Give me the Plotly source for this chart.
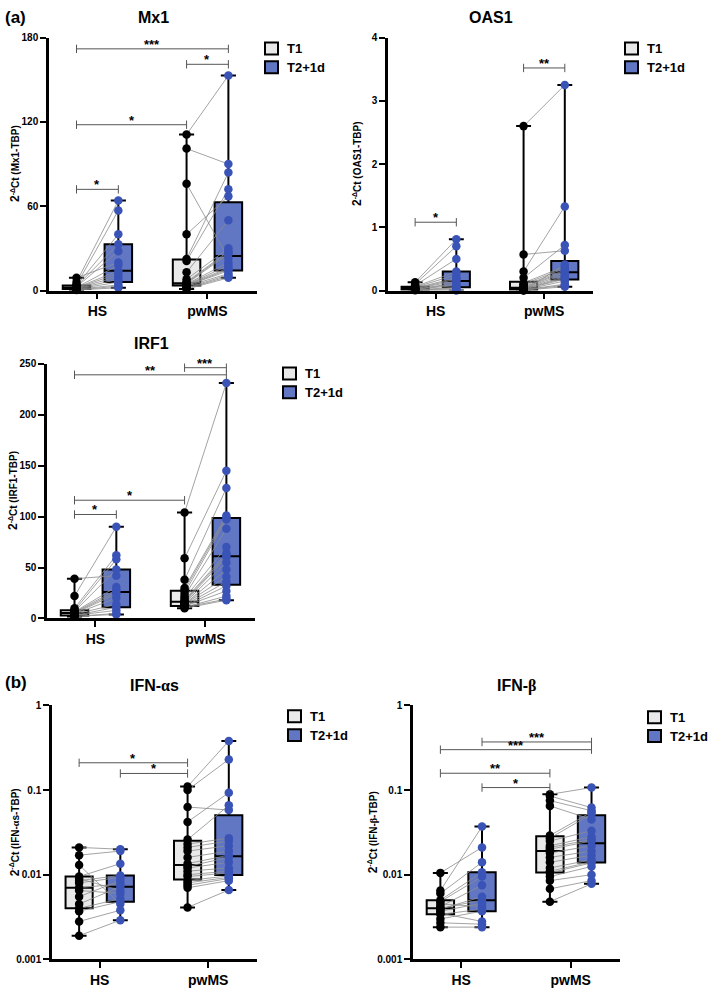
import numpy as np
import plotly.graph_objects as go

# ---------------- data ----------------
GROUPS = ["HS", "pwMS"]
TIMEPOINTS = ["T1", "T2+1d"]

# Mx1 (paired: index i of T1 matches index i of T2)
MX1_HS_T1 = [9, 6, 4, 3.5, 3, 2.5, 2.2, 2, 1.8, 1.5, 1.2, 1, 0.8, 0.5, 0.3]
MX1_HS_T2 = [20, 64, 57, 40, 33, 28, 18, 14, 12, 10, 8, 6, 4, 3, 2]
MX1_PW_T1 = [111, 101, 76, 40, 22.5, 21, 13, 8, 6, 5.5, 5, 4.5, 4, 4, 3.6, 3.5, 3, 2, 1.5, 1]
MX1_PW_T2 = [153, 90, 23, 67, 84, 72, 50, 30, 28, 27, 26, 20, 18, 16, 15, 14, 12, 11, 10, 9]

# OAS1
OAS1_HS_T1 = [0.13, 0.1, 0.08, 0.06, 0.05, 0.04, 0.03, 0.03, 0.02, 0.02, 0.02, 0.01, 0.01, 0.01, 0.005]
OAS1_HS_T2 = [0.81, 0.7, 0.5, 0.3, 0.25, 0.2, 0.18, 0.15, 0.12, 0.1, 0.08, 0.05, 0.03, 0.01, 0.0]
OAS1_PW_T1 = [2.6, 0.57, 0.3, 0.2, 0.12, 0.1, 0.08, 0.06, 0.05, 0.04, 0.03, 0.02, 0.02, 0.01, 0.01, 0.01, 0.005, 0.0]
OAS1_PW_T2 = [3.25, 0.63, 1.33, 0.72, 0.38, 0.35, 0.32, 0.3, 0.28, 0.25, 0.22, 0.2, 0.18, 0.15, 0.1, 0.08, 0.06, 0.41]

# IRF1
IRF1_HS_T1 = [39, 22, 10, 8, 7, 6.5, 6, 5.5, 5, 4.5, 4, 3, 3, 2, 2]
IRF1_HS_T2 = [42, 90, 62, 58, 48, 31, 28, 26, 24, 20, 14, 11, 8, 5, 4]
IRF1_PW_T1 = [104, 59, 38, 30, 28, 25, 22, 20, 18, 17, 16, 15, 14, 14, 13, 12, 12, 11, 11, 10]
IRF1_PW_T2 = [231, 145, 128, 101, 99, 97, 88, 70, 64, 62, 60, 55, 48, 41, 36, 32, 27, 22, 19, 18]

# IFN-alphas
IFNA_HS_T1 = [0.021, 0.017, 0.013, 0.0095, 0.009, 0.0085, 0.008, 0.007, 0.0065, 0.0055, 0.0045, 0.004, 0.0037, 0.0028, 0.0019]
IFNA_HS_T2 = [0.02, 0.019, 0.0045, 0.0135, 0.0065, 0.0098, 0.0093, 0.0078, 0.006, 0.0085, 0.0072, 0.0052, 0.0048, 0.0038, 0.0029]
IFNA_PW_T1 = [0.11, 0.1, 0.063, 0.042, 0.026, 0.023, 0.021, 0.019, 0.016, 0.0135, 0.0125, 0.012, 0.011, 0.01, 0.0095, 0.0085, 0.008, 0.0075, 0.007, 0.0041]
IFNA_PW_T2 = [0.38, 0.23, 0.058, 0.093, 0.066, 0.027, 0.025, 0.022, 0.019, 0.017, 0.016, 0.014, 0.012, 0.011, 0.0105, 0.0097, 0.0093, 0.009, 0.0085, 0.0066]

# IFN-beta
IFNB_HS_T1 = [0.0105, 0.0065, 0.006, 0.005, 0.0048, 0.0045, 0.0042, 0.004, 0.0039, 0.0037, 0.0035, 0.0034, 0.003, 0.0027, 0.0024]
IFNB_HS_T2 = [0.021, 0.037, 0.014, 0.0107, 0.0095, 0.0042, 0.0075, 0.005, 0.0055, 0.0046, 0.0028, 0.0039, 0.0037, 0.0026, 0.0024]
IFNB_PW_T1 = [0.089, 0.085, 0.075, 0.065, 0.029, 0.027, 0.025, 0.022, 0.021, 0.02, 0.018, 0.016, 0.014, 0.012, 0.011, 0.0105, 0.0095, 0.0085, 0.0068, 0.0048]
IFNB_PW_T2 = [0.107, 0.062, 0.057, 0.045, 0.055, 0.052, 0.033, 0.028, 0.026, 0.025, 0.022, 0.019, 0.017, 0.015, 0.0142, 0.0138, 0.0125, 0.01, 0.0085, 0.0078]

# tick values
MX1_TICKS = [0, 60, 120, 180]
OAS1_TICKS = [0, 1, 2, 3, 4]
IRF1_TICKS = [0, 50, 100, 150, 200, 250]
LOG_TICKS = [0.001, 0.01, 0.1, 1]
LOG_TICK_TEXT = ["0.001", "0.01", "0.1", "1"]

# significance comparisons: (box from, box to, level, label); boxes 0=HS T1,1=HS T2,2=pwMS T1,3=pwMS T2
MX1_SIG = [(0, 3, 172, "***"), (2, 3, 161, "*"), (0, 2, 118, "*"), (0, 1, 72, "*")]
OAS1_SIG = [(0, 1, 1.08, "*"), (2, 3, 3.52, "**")]
IRF1_SIG = [(0, 3, 239, "**"), (2, 3, 246, "***"), (0, 2, 116, "*"), (0, 1, 102, "*")]
IFNA_SIG = [(0, 2, 0.21, "*"), (1, 2, 0.157, "*")]
IFNB_SIG = [(1, 3, 0.37, "***"), (0, 3, 0.30, "***"), (0, 2, 0.158, "**"), (1, 2, 0.107, "*")]

# ---------------- style / layout ----------------
FONT = "Liberation Sans, Arial, Helvetica, sans-serif"
SERIF = "Liberation Serif, DejaVu Serif, serif"
W, H = 709, 990
T1_FILL = "#e9e9e9"
T2_FILL = "#6177c3"
T1_PT = "#000000"
T2_PT = "#3a53b6"
LINK = "#8c8c8c"
SIG = "#555555"
OFF = 0.19
BOXW = 0.25
XRANGE = [0.56, 2.45]


def px(x):
    return x / W


def py(y):
    return 1 - y / H


def greek(ch):
    return "<span style='font-family:" + SERIF + "'>" + ch + "</span>"


panels = [
    dict(title="Mx1", gene="Mx1-TBP",
         data=(MX1_HS_T1, MX1_HS_T2, MX1_PW_T1, MX1_PW_T2),
         rect=(49, 32, 257, 288), log=False, yrange=[0, 180], ticks=MX1_TICKS,
         sig=MX1_SIG, legend=(265, 43), ytx=15),
    dict(title="OAS1", gene="OAS1-TBP",
         data=(OAS1_HS_T1, OAS1_HS_T2, OAS1_PW_T1, OAS1_PW_T2),
         rect=(388, 32, 593, 288), log=False, yrange=[0, 4], ticks=OAS1_TICKS,
         sig=OAS1_SIG, legend=(625, 43), ytx=357),
    dict(title="IRF1", gene="IRF1-TBP",
         data=(IRF1_HS_T1, IRF1_HS_T2, IRF1_PW_T1, IRF1_PW_T2),
         rect=(47, 362, 255, 620), log=False, yrange=[0, 250], ticks=IRF1_TICKS,
         sig=IRF1_SIG, legend=(283, 372), ytx=13),
    dict(title="IFN-" + greek("α") + "s", gene="IFN-" + greek("α") + "s-TBP",
         data=(IFNA_HS_T1, IFNA_HS_T2, IFNA_PW_T1, IFNA_PW_T2),
         rect=(52, 708, 257, 965), log=True, yrange=[-3, 0], ticks=LOG_TICKS,
         sig=IFNA_SIG, legend=(288, 719), ytx=15),
    dict(title="IFN-" + greek("β"), gene="IFN-" + greek("β") + "-TBP",
         data=(IFNB_HS_T1, IFNB_HS_T2, IFNB_PW_T1, IFNB_PW_T2),
         rect=(413, 708, 620, 965), log=True, yrange=[-3, 0], ticks=LOG_TICKS,
         sig=IFNB_SIG, legend=(648, 720), ytx=373),
]

positions = [1 - OFF, 1 + OFF, 2 - OFF, 2 + OFF]
fills = [T1_FILL, T2_FILL, T1_FILL, T2_FILL]
ptcols = [T1_PT, T2_PT, T1_PT, T2_PT]

fig = go.Figure()
layout = dict(
    width=W, height=H, margin=dict(l=0, r=0, t=0, b=0, pad=0),
    paper_bgcolor="white", plot_bgcolor="white", showlegend=False,
    boxmode="overlay", font=dict(family=FONT, color="black"),
)
annotations = []
shapes = []

for k, p in enumerate(panels, start=1):
    sfx = "" if k == 1 else str(k)
    xa, ya = "x" + sfx, "y" + sfx
    x0, y0, x1, y1 = p["rect"]

    axis_style = dict(showline=True, linecolor="black", linewidth=2.5, ticks="outside",
                      ticklen=6, tickwidth=2, tickcolor="black", showgrid=False,
                      zeroline=False)
    layout["xaxis" + sfx] = dict(
        axis_style, domain=[px(x0), px(x1)], range=XRANGE, anchor=ya,
        tickmode="array", tickvals=[1, 2], ticktext=GROUPS,
        tickfont=dict(family=FONT, size=14, color="black", weight="bold"))
    yax = dict(axis_style, domain=[py(y1), py(y0)], range=p["yrange"], anchor=xa,
               tickmode="array", tickvals=p["ticks"],
               tickfont=dict(family=FONT, size=10, color="black", weight="bold"))
    if p["log"]:
        yax.update(type="log", ticktext=LOG_TICK_TEXT)
    layout["yaxis" + sfx] = yax

    # boxes (min-to-max whiskers)
    for j, vals in enumerate(p["data"]):
        a = np.asarray(vals, dtype=float)
        q1, med, q3 = np.percentile(a, [25, 50, 75], method="weibull")
        fig.add_trace(go.Box(
            x=[positions[j]], q1=[q1], median=[med], q3=[q3],
            lowerfence=[a.min()], upperfence=[a.max()], orientation="v",
            width=BOXW, whiskerwidth=0.55, fillcolor=fills[j],
            line=dict(color="black", width=2), boxpoints=False,
            hoverinfo="skip", xaxis=xa, yaxis=ya))

    # paired connecting lines
    lx, ly = [], []
    for (t1, t2, xa1, xa2) in [(p["data"][0], p["data"][1], positions[0], positions[1]),
                               (p["data"][2], p["data"][3], positions[2], positions[3])]:
        for v1, v2 in zip(t1, t2):
            lx += [xa1, xa2, None]
            ly += [v1, v2, None]
    fig.add_trace(go.Scatter(x=lx, y=ly, mode="lines", line=dict(color=LINK, width=0.8),
                             hoverinfo="skip", xaxis=xa, yaxis=ya, cliponaxis=False))

    # points
    for j, vals in enumerate(p["data"]):
        fig.add_trace(go.Scatter(
            x=[positions[j]] * len(vals), y=vals, mode="markers",
            marker=dict(size=8.5, color=ptcols[j], line=dict(width=0)),
            cliponaxis=False, xaxis=xa, yaxis=ya))

    # significance brackets
    bx, by = [], []
    for (a_i, b_i, lvl, lab) in p["sig"]:
        bx += [positions[a_i], positions[b_i], None]
        by += [lvl, lvl, None]
        annotations.append(dict(
            x=(positions[a_i] + positions[b_i]) / 2,
            y=np.log10(lvl) if p["log"] else lvl, xref=xa, yref=ya,
            text=lab, showarrow=False, yanchor="bottom", yshift=-5,
            font=dict(family=FONT, size=13, color="black", weight="bold")))
    fig.add_trace(go.Scatter(
        x=bx, y=by, mode="lines+markers", line=dict(color=SIG, width=1),
        marker=dict(symbol="line-ns", size=6, line=dict(color=SIG, width=1)),
        cliponaxis=False, hoverinfo="skip", xaxis=xa, yaxis=ya))

    # panel title
    annotations.append(dict(
        x=px((x0 + x1) / 2), y=py(y0 - 20), xref="paper", yref="paper",
        text=p["title"], showarrow=False, xanchor="center", yanchor="middle",
        font=dict(family=FONT, size=16, color="black", weight="bold")))

    # y-axis title
    annotations.append(dict(
        x=px(p["ytx"]), y=py((y0 + y1) / 2), xref="paper", yref="paper",
        text="<span style='font-size:12px'>2</span><sup>-Δ</sup>Ct (" + p["gene"] + ")",
        textangle=-90, showarrow=False, xanchor="center", yanchor="middle",
        font=dict(family=FONT, size=10, color="black", weight="bold")))

    # legend
    lgx, lgy = p["legend"]
    for r, (lab, fc) in enumerate(zip(TIMEPOINTS, [T1_FILL, T2_FILL])):
        cy = lgy + r * 19
        shapes.append(dict(type="rect", xref="paper", yref="paper",
                           x0=px(lgx), x1=px(lgx + 13), y0=py(cy + 6), y1=py(cy - 6),
                           fillcolor=fc, line=dict(color="black", width=2)))
        annotations.append(dict(
            x=px(lgx + 20), y=py(cy), xref="paper", yref="paper", text=lab,
            showarrow=False, xanchor="left", yanchor="middle",
            font=dict(family=FONT, size=13, color="black", weight="bold")))

# panel letters
for lab, yy in [("(a)", 12), ("(b)", 685)]:
    annotations.append(dict(
        x=px(3), y=py(yy), xref="paper", yref="paper", text=lab, showarrow=False,
        xanchor="left", yanchor="middle",
        font=dict(family=FONT, size=17, color="black", weight="bold")))

layout["annotations"] = annotations
layout["shapes"] = shapes
fig.update_layout(**layout)
fig.write_html(
    "out.html",
    config={"displayModeBar": False, "responsive": False},
    post_script="document.body.style.margin='0';document.body.style.overflow='hidden';",
)
